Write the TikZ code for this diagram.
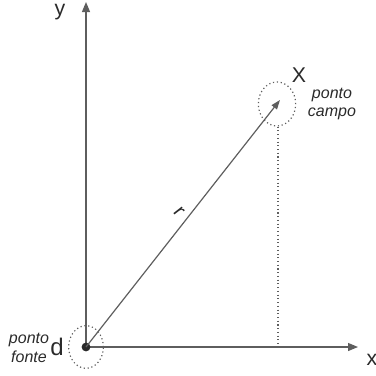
\documentclass[tikz,border=0pt]{standalone}
\usepackage{fontspec}
\setmainfont{Liberation Sans}
\usetikzlibrary{arrows.meta, positioning, calc, shapes.geometric}
\definecolor{axisgray}{HTML}{5E5E5E}
\definecolor{txtgray}{HTML}{2A2A2A}
\tikzset{
  axisline/.style={axisgray, line width=0.9pt, -{Triangle[length=7.5pt, width=6pt]}},
  region/.style={draw=axisgray, dotted, line width=0.9pt, ellipse, inner sep=0pt},
  lbl/.style={txtgray, inner sep=0pt},
  note/.style={txtgray, font=\itshape\fontsize{12}{14}\selectfont, align=center, inner sep=0pt}
}
\begin{document}
\begin{tikzpicture}[x=0.75pt, y=-0.75pt]
  \useasboundingbox (0,0) rectangle (376,376);
  \coordinate (o) at (86,347);
  \coordinate (ytip) at (86,2);
  \coordinate (xtip) at (358,347);
  \coordinate (p) at (277,104);
  \coordinate (rtip) at (280,100);
  \coordinate (pfoot) at (278,347);

  % axes
  \draw[axisline] (o) -- (ytip);
  \draw[axisline] (o) -- (xtip);

  % source and field regions
  \node[region, minimum width=26pt, minimum height=32pt] (src) at (o) {};
  \node[region, minimum width=28pt, minimum height=33pt] (fld) at (p) {};
  \fill[txtgray] (o) circle (3.3pt);

  % projection
  \draw[axisgray, dotted, line width=0.8pt] (fld.south -| pfoot) -- (pfoot);

  % r
  \draw[axisgray, line width=0.9pt, -{Triangle[length=7pt, width=5pt]}] (o) -- (rtip);
  \node[lbl, font=\fontsize{15}{15}\selectfont, rotate=-52] (rlab) at (179,212) {r};

  % labels
  \node[lbl, font=\fontsize{16}{16}\selectfont] (ylab) at (60,12) {y};
  \node[lbl, font=\fontsize{16}{16}\selectfont] (xlab) at (372,360) {x};
  \node[lbl, font=\fontsize{18}{18}\selectfont] (dlab) at (57,347) {d};
  \node[lbl, font=\fontsize{16}{16}\selectfont] (Xlab) at (299,75) {X};
  \node[note] (fonte) at (29,348) {ponto\\fonte};
  \node[note] (campo) at (332,104) {ponto\\campo};
\end{tikzpicture}
\end{document}
